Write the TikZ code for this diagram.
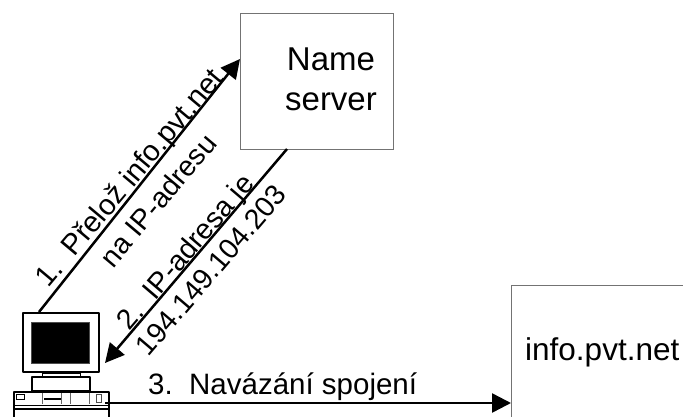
\documentclass[tikz,border=0pt]{standalone}
\usepackage{fontspec}
\setmainfont{Liberation Sans}
\usetikzlibrary{arrows.meta}
\tikzset{
 box/.style={draw=black!55,line width=1pt,inner sep=0pt,align=center,fill=white},
 conn/.style={draw=black,line width=2.5pt,-{Triangle[length=19pt,width=19pt]},shorten >=0pt},
 lab/.style={inner sep=0pt,font=\fontsize{29.5}{30}\selectfont},
 rlab/.style={inner sep=0pt,font=\fontsize{28.5}{30}\selectfont},
 rlabb/.style={inner sep=0pt,font=\fontsize{29.2}{30}\selectfont},
 big/.style={font=\fontsize{33}{40}\selectfont},
 pc/.style={draw=black,line width=2.5pt,fill=white,inner sep=0pt,line join=round},
 pcthin/.style={draw=black,line width=1pt},
}
\begin{document}
\begin{tikzpicture}[x=1pt,y=-1pt]
\useasboundingbox (0,0) rectangle (683,416);
\clip (0,0) rectangle (683,416);
% boxes
\node[box,minimum width=153pt,minimum height=136pt] (ns) at (316.5,81) {};
\node[big] (nstxt) at (331,82) {\begin{tabular}{@{}c@{}}Name\\server\end{tabular}};
\node[box,minimum width=220pt,minimum height=180pt] (info) at (621,375) {};
\node[font=\fontsize{31.5}{40}\selectfont,anchor=west,inner sep=0pt] (infotxt) at (525,352) {info.pvt.net};
% computer
\node[pc,minimum width=76pt,minimum height=59pt] (mon) at (61,342.5) {};
\node[fill=black,draw=black!70,line width=.6pt,inner sep=0pt,minimum width=58pt,minimum height=41pt] (scr) at (60.5,342.5) {};
\node[pcthin,fill=white,inner sep=0pt,minimum width=38pt,minimum height=3pt] (neck) at (61,375) {};
\node[pc,minimum width=58pt,minimum height=14pt] (stand) at (61,384) {};
\node[pc,minimum width=95pt,minimum height=30pt] (base) at (61.5,407) {};
\node[draw=black,line width=.8pt,inner sep=0pt,minimum width=8pt,minimum height=5pt] (led) at (20,397) {};
\node[draw=black!70,line width=.6pt,inner sep=0pt,minimum width=5pt,minimum height=8pt] (sw) at (99,398) {};
\node[fill=black,inner sep=0pt,minimum width=17pt,minimum height=1.6pt] (slot) at (52,399) {};
\coordinate (b1) at (13,405); \coordinate (b2) at (109,405);
\coordinate (b3) at (13,409); \coordinate (b4) at (109,409);
\coordinate (d1) at (42,393); \coordinate (d2) at (42,404);
\coordinate (d3) at (61,393); \coordinate (d4) at (61,404);
\coordinate (d5) at (70,393); \coordinate (d6) at (70,404);
\coordinate (d7) at (89,393); \coordinate (d8) at (89,404);
\draw[line width=1pt] (b1)--(b2);
\draw[line width=1.5pt] (b3)--(b4);
\draw[draw=black!60,line width=.7pt] (d1)--(d2) (d3)--(d4) (d5)--(d6) (d7)--(d8);
% connectors
\coordinate (s1) at (39,312);
\coordinate (t1) at (240,59);
\coordinate (s2) at (287,149);
\coordinate (t2) at (105,363);
\coordinate (s3) at (105,403);
\coordinate (t3) at (511,403);
\draw[conn] (s1) -- (t1);
\draw[conn] (s2) -- (t2);
\draw[conn] (s3) -- (t3);
% labels
\node[rlabb,rotate=50] (l1) at (131,179) {1.\ \ Přelož info.pvt.net};
\node[rlab,rotate=50] (l1b) at (158,200) {na IP-adresu};
\node[rlab,rotate=49.5] (l2) at (187,253) {2.\ \ IP-adresa je};
\node[rlab,rotate=49.5] (l2b) at (211,270) {194.149.104.203};
\node[lab,anchor=west] (l3) at (148,387) {3.\ \ Navázání spojení};
\end{tikzpicture}
\end{document}
